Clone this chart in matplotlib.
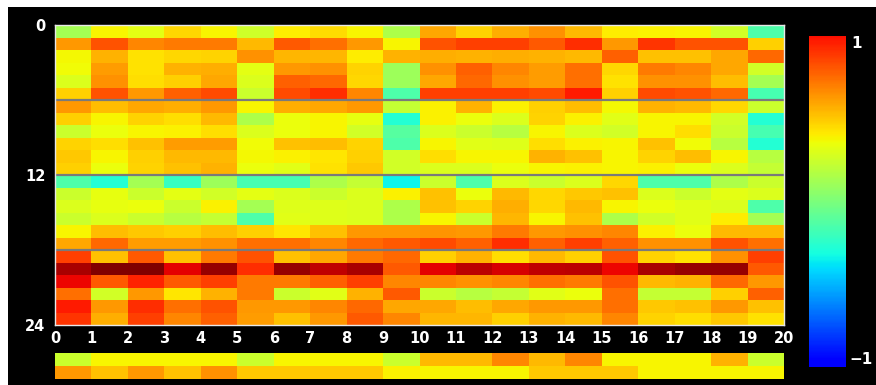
import numpy as np
import matplotlib
matplotlib.use("Agg")
import matplotlib.pyplot as plt
from matplotlib.colors import Normalize
from matplotlib.patches import Rectangle

# ---- data ----
x_ticks = list(range(0, 21))
y_ticks = [0, 12, 24]
divider_rows = [6, 12, 18]
cbar_labels = ["1", "\u22121"]

row_values = [
    [0.12, 0.38, 0.32, 0.46, 0.38, 0.25, 0.40, 0.45, 0.38, 0.15, 0.60, 0.47, 0.57, 0.65, 0.54, 0.40, 0.39, 0.38, 0.26, -0.15],
    [0.63, 0.82, 0.68, 0.71, 0.71, 0.54, 0.80, 0.74, 0.63, 0.38, 0.82, 0.87, 0.87, 0.80, 0.92, 0.63, 0.90, 0.83, 0.83, 0.48],
    [0.37, 0.56, 0.43, 0.46, 0.47, 0.65, 0.55, 0.55, 0.40, 0.56, 0.58, 0.56, 0.58, 0.56, 0.54, 0.78, 0.52, 0.52, 0.60, 0.76],
    [0.36, 0.62, 0.43, 0.56, 0.58, 0.32, 0.63, 0.65, 0.47, 0.10, 0.65, 0.78, 0.68, 0.62, 0.74, 0.46, 0.71, 0.68, 0.60, 0.26],
    [0.29, 0.65, 0.44, 0.48, 0.60, 0.29, 0.78, 0.76, 0.46, 0.10, 0.60, 0.76, 0.65, 0.62, 0.74, 0.43, 0.65, 0.65, 0.53, 0.12],
    [0.48, 0.83, 0.63, 0.78, 0.85, 0.24, 0.85, 0.92, 0.68, -0.15, 0.87, 0.87, 0.87, 0.85, 0.97, 0.48, 0.85, 0.83, 0.76, -0.17],
    [0.63, 0.53, 0.60, 0.58, 0.63, 0.38, 0.58, 0.60, 0.63, 0.22, 0.39, 0.56, 0.39, 0.48, 0.53, 0.37, 0.56, 0.54, 0.46, 0.24],
    [0.48, 0.38, 0.47, 0.44, 0.54, 0.15, 0.34, 0.38, 0.33, -0.28, 0.39, 0.34, 0.29, 0.47, 0.39, 0.31, 0.38, 0.38, 0.26, -0.28],
    [0.24, 0.34, 0.38, 0.39, 0.44, 0.29, 0.34, 0.38, 0.26, -0.12, 0.29, 0.24, 0.18, 0.38, 0.29, 0.26, 0.38, 0.44, 0.24, -0.17],
    [0.47, 0.44, 0.52, 0.62, 0.62, 0.36, 0.52, 0.53, 0.47, -0.15, 0.38, 0.31, 0.30, 0.44, 0.39, 0.38, 0.52, 0.36, 0.18, -0.28],
    [0.50, 0.38, 0.48, 0.54, 0.54, 0.37, 0.39, 0.42, 0.48, 0.26, 0.44, 0.38, 0.38, 0.56, 0.52, 0.38, 0.47, 0.53, 0.38, 0.18],
    [0.48, 0.34, 0.47, 0.52, 0.56, 0.34, 0.31, 0.43, 0.50, 0.26, 0.29, 0.29, 0.34, 0.38, 0.39, 0.38, 0.39, 0.34, 0.29, 0.22],
    [-0.15, -0.28, 0.12, -0.22, 0.10, -0.17, -0.17, 0.15, 0.22, -0.34, 0.24, -0.15, 0.29, 0.24, 0.29, 0.46, -0.15, -0.15, 0.15, 0.24],
    [0.24, 0.33, 0.24, 0.32, 0.26, 0.32, 0.29, 0.24, 0.29, 0.39, 0.52, 0.34, 0.54, 0.46, 0.50, 0.52, 0.29, 0.24, 0.32, 0.29],
    [0.29, 0.33, 0.34, 0.24, 0.39, 0.12, 0.30, 0.30, 0.29, 0.15, 0.52, 0.47, 0.58, 0.46, 0.54, 0.38, 0.34, 0.31, 0.29, -0.15],
    [0.24, 0.29, 0.24, 0.18, 0.22, -0.15, 0.31, 0.30, 0.29, 0.15, 0.38, 0.24, 0.55, 0.38, 0.52, 0.15, 0.26, 0.31, 0.40, 0.12],
    [0.38, 0.53, 0.50, 0.48, 0.53, 0.48, 0.42, 0.52, 0.63, 0.63, 0.64, 0.63, 0.71, 0.63, 0.65, 0.68, 0.39, 0.34, 0.54, 0.54],
    [0.60, 0.76, 0.62, 0.62, 0.65, 0.74, 0.74, 0.68, 0.76, 0.81, 0.84, 0.78, 0.92, 0.78, 0.87, 0.78, 0.65, 0.65, 0.83, 0.74],
    [0.87, 0.52, 0.80, 0.52, 0.71, 0.83, 0.52, 0.60, 0.71, 0.76, 0.48, 0.56, 0.44, 0.54, 0.48, 0.83, 0.47, 0.43, 0.65, 0.87],
    [1.19, 1.28, 1.28, 1.05, 1.23, 0.92, 1.23, 1.13, 1.19, 0.80, 1.05, 1.15, 1.08, 1.13, 1.15, 1.03, 1.19, 1.23, 1.23, 0.80],
    [1.03, 0.80, 0.95, 0.80, 0.87, 0.71, 0.71, 0.78, 0.87, 0.68, 0.68, 0.65, 0.68, 0.74, 0.71, 0.83, 0.54, 0.56, 0.76, 0.63],
    [0.74, 0.26, 0.63, 0.42, 0.56, 0.71, 0.24, 0.31, 0.56, 0.80, 0.24, 0.18, 0.22, 0.31, 0.34, 0.74, 0.22, 0.22, 0.48, 0.78],
    [0.97, 0.63, 0.92, 0.74, 0.83, 0.63, 0.63, 0.68, 0.76, 0.60, 0.60, 0.53, 0.60, 0.63, 0.63, 0.74, 0.50, 0.52, 0.63, 0.52],
    [0.90, 0.58, 0.87, 0.68, 0.78, 0.62, 0.52, 0.63, 0.80, 0.68, 0.55, 0.55, 0.48, 0.56, 0.54, 0.68, 0.47, 0.44, 0.50, 0.43],
]

strip_row_a = [0.24, 0.38, 0.38, 0.38, 0.38, 0.24, 0.38, 0.38, 0.38, 0.24, 0.54, 0.54, 0.68, 0.54, 0.68, 0.38, 0.38, 0.38, 0.56, 0.24]
strip_row_b = [0.63, 0.52, 0.63, 0.52, 0.65, 0.50, 0.50, 0.50, 0.50, 0.39, 0.38, 0.38, 0.38, 0.50, 0.50, 0.50, 0.38, 0.38, 0.38, 0.38]

# ---- figure ----
W, H = 876, 385
fig = plt.figure(figsize=(W / 100, H / 100), dpi=100, facecolor="white")
fig.patches.append(Rectangle((8 / W, 0), 1, 1 - 7 / H, transform=fig.transFigure,
                             facecolor="black", edgecolor="none", zorder=-10))

cmap = plt.get_cmap("jet")
norm = Normalize(vmin=-1.28, vmax=1.28)

def fx(px):
    return px / W

def fy(px):
    return 1 - px / H

# main heatmap
ax = fig.add_axes([fx(55), fy(325), fx(784) - fx(55), fy(25) - fy(325)])
data = np.array(row_values)
ax.pcolormesh(np.arange(data.shape[1] + 1), np.arange(data.shape[0] + 1), data,
              cmap=cmap, norm=norm, shading="flat")
ax.set_xlim(0, 20)
ax.set_ylim(24, 0)
ax.set_facecolor("black")
for r in divider_rows:
    ax.axhline(r, color="#7a7a7a", linewidth=1.6)
for s in ax.spines.values():
    s.set_color("#e8e8e8")
    s.set_linewidth(1.0)
ax.set_xticks(x_ticks)
ax.set_xticklabels([str(t) for t in x_ticks])
ax.set_yticks(y_ticks)
ax.set_yticklabels([str(t) for t in y_ticks])
ax.tick_params(length=0, colors="white", labelsize=10.5, pad=4)
ax.tick_params(axis="y", pad=7)
for lab in ax.get_xticklabels() + ax.get_yticklabels():
    lab.set_fontweight("bold")
    lab.set_color("white")

# bottom strip
ax2 = fig.add_axes([fx(55), fy(379), fx(784) - fx(55), fy(353) - fy(379)])
strip = np.array([strip_row_a, strip_row_b])
ax2.pcolormesh(np.arange(strip.shape[1] + 1), np.arange(strip.shape[0] + 1), strip,
               cmap=cmap, norm=norm, shading="flat")
ax2.set_xlim(0, 20)
ax2.set_ylim(2, 0)
ax2.set_xticks([])
ax2.set_yticks([])
for s in ax2.spines.values():
    s.set_visible(False)

# colorbar
cax = fig.add_axes([fx(809), fy(367), fx(846) - fx(809), fy(36) - fy(367)])
grad = np.linspace(-1, 1, 256).reshape(-1, 1)
cax.imshow(grad, cmap=cmap, norm=norm, aspect="auto", origin="lower",
           extent=[0, 1, -1, 1])
cax.set_xticks([])
cax.set_yticks([])
for s in cax.spines.values():
    s.set_visible(False)
fig.text(fx(851), fy(36), cbar_labels[0], color="white", fontsize=11,
         fontweight="bold", ha="left", va="top")
fig.text(fx(849), fy(367), cbar_labels[1], color="white", fontsize=11,
         fontweight="bold", ha="left", va="bottom")

fig.savefig("out.png", dpi=100, facecolor="white")
